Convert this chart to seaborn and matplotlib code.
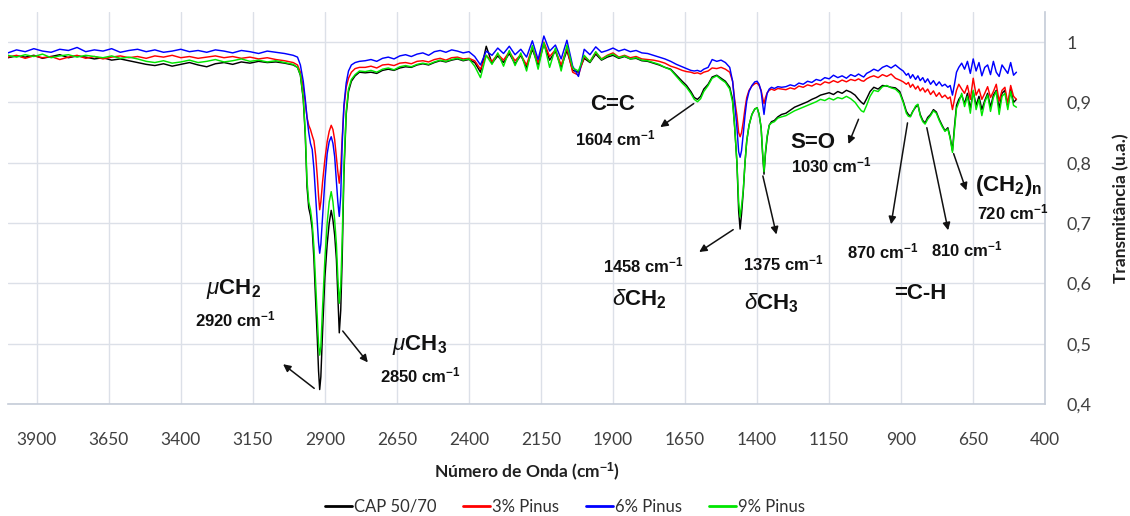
import matplotlib
matplotlib.use("Agg")
import matplotlib.pyplot as plt
from matplotlib import font_manager
from matplotlib.lines import Line2D
import seaborn as sns
import pandas as pd

# ---------------- data ----------------
wavenumber = [
    4000, 3970, 3940, 3910, 3880, 3850, 3820, 3790, 3760, 3730, 3700, 3670, 3640, 3610, 3580, 3550, 3520,
    3490, 3460, 3430, 3400, 3370, 3340, 3310, 3280, 3250, 3220, 3190, 3160, 3130, 3100, 3070, 3040, 3010,
    2995, 2985, 2975, 2968, 2962, 2956, 2950, 2944, 2938, 2932, 2926, 2922, 2918, 2914, 2908, 2900,
    2892, 2885, 2878, 2872, 2866, 2860, 2855, 2850, 2845, 2840, 2834, 2826, 2818, 2808, 2795, 2780,
    2760, 2740, 2720, 2700, 2680, 2660, 2640, 2620, 2600, 2580, 2560, 2540, 2520, 2500, 2480, 2460,
    2440, 2420, 2400, 2380, 2360, 2340, 2320, 2300, 2280, 2260, 2240, 2220, 2200, 2180, 2160, 2140,
    2120, 2100, 2080, 2060, 2040, 2020, 2000, 1980, 1960, 1940, 1920, 1900, 1880, 1860, 1840, 1820,
    1800, 1780,
    1760, 1740, 1720, 1700, 1680, 1660, 1645, 1630, 1618, 1607, 1596, 1585, 1570, 1556, 1540, 1525,
    1510, 1495, 1485, 1478, 1470, 1464, 1459, 1454, 1448, 1442, 1436, 1428, 1418, 1408, 1400, 1393,
    1386, 1381, 1376, 1371, 1365, 1358, 1350, 1340, 1328, 1315,
    1300, 1285, 1270, 1255, 1240, 1225, 1210, 1195, 1180, 1165, 1150, 1135, 1120, 1105, 1090, 1075,
    1060, 1048, 1038, 1030, 1020, 1008, 995, 980, 965, 950, 935, 920, 905, 893, 882, 875, 868, 860,
    850, 842, 834, 825, 817, 808, 798, 788, 778, 768, 758, 748, 738, 730, 722, 715, 708, 700,
    690, 680, 670, 660, 650, 640, 630, 620, 610, 600, 590, 580, 570, 560, 550, 540, 530, 520, 510, 500,
]

cap_50_70 = [
    0.974, 0.977, 0.975, 0.978, 0.973, 0.976, 0.979, 0.974, 0.977, 0.975, 0.972, 0.974, 0.970, 0.972, 0.969, 0.966, 0.963,
    0.961, 0.964, 0.960, 0.963, 0.966, 0.962, 0.959, 0.964, 0.966, 0.963, 0.967, 0.965, 0.968, 0.966, 0.967, 0.965, 0.962,
    0.958, 0.945, 0.905, 0.845, 0.760, 0.725, 0.712, 0.690, 0.640, 0.570, 0.505, 0.455, 0.424, 0.445, 0.520, 0.610,
    0.665, 0.700, 0.721, 0.705, 0.680, 0.640, 0.580, 0.518, 0.555, 0.640, 0.780, 0.880, 0.918, 0.935, 0.944, 0.950,
    0.949, 0.950, 0.948, 0.953, 0.955, 0.953, 0.957, 0.959, 0.958, 0.962, 0.964, 0.962, 0.966, 0.969, 0.967, 0.970,
    0.972, 0.969, 0.971, 0.966, 0.950, 0.993, 0.965, 0.977, 0.966, 0.981, 0.964, 0.978, 0.958, 0.988, 0.962, 0.997,
    0.970, 0.985, 0.958, 0.986, 0.953, 0.950, 0.973, 0.966, 0.980, 0.970, 0.975, 0.978, 0.973, 0.976, 0.972, 0.973,
    0.969, 0.968,
    0.965, 0.962, 0.958, 0.955, 0.945, 0.935, 0.928, 0.918, 0.908, 0.905, 0.910, 0.922, 0.930, 0.942, 0.945, 0.940,
    0.935, 0.925, 0.905, 0.860, 0.800, 0.720, 0.690, 0.715, 0.752, 0.800, 0.836, 0.862, 0.880, 0.889, 0.891, 0.880,
    0.858, 0.815, 0.781, 0.815, 0.842, 0.862, 0.868, 0.870, 0.876, 0.880,
    0.882, 0.887, 0.892, 0.895, 0.898, 0.901, 0.905, 0.908, 0.912, 0.914, 0.916, 0.913, 0.918, 0.915, 0.920, 0.917,
    0.912, 0.905, 0.900, 0.897, 0.906, 0.918, 0.925, 0.922, 0.928, 0.927, 0.925, 0.924, 0.918, 0.902, 0.885, 0.880, 0.877, 0.885,
    0.892, 0.896, 0.880, 0.870, 0.866, 0.875, 0.880, 0.888, 0.884, 0.872, 0.862, 0.853, 0.858, 0.842, 0.820, 0.860, 0.895, 0.905,
    0.912, 0.898, 0.915, 0.890, 0.918, 0.895, 0.910, 0.888, 0.903, 0.915, 0.892, 0.912, 0.920, 0.890, 0.915, 0.920, 0.893, 0.922, 0.900, 0.905,
]

pinus_3 = [
    0.975, 0.978, 0.973, 0.977, 0.974, 0.976, 0.971, 0.975, 0.978, 0.973, 0.976, 0.972, 0.975, 0.977, 0.974, 0.976, 0.973,
    0.977, 0.975, 0.978, 0.974, 0.976, 0.973, 0.975, 0.977, 0.974, 0.976, 0.973, 0.975, 0.972, 0.974, 0.971, 0.969, 0.966,
    0.962, 0.950, 0.925, 0.900, 0.875, 0.862, 0.855, 0.845, 0.836, 0.812, 0.775, 0.745, 0.722, 0.735, 0.768, 0.805,
    0.835, 0.852, 0.862, 0.855, 0.838, 0.810, 0.785, 0.766, 0.790, 0.840, 0.890, 0.925, 0.940, 0.950, 0.956, 0.958,
    0.958, 0.960, 0.957, 0.962, 0.963, 0.961, 0.965, 0.966, 0.964, 0.968, 0.969, 0.967, 0.971, 0.973, 0.970, 0.974,
    0.975, 0.972, 0.973, 0.969, 0.955, 0.978, 0.968, 0.980, 0.970, 0.984, 0.969, 0.979, 0.962, 0.992, 0.966, 1.000,
    0.976, 0.987, 0.962, 0.990, 0.950, 0.945, 0.976, 0.968, 0.983, 0.972, 0.978, 0.982, 0.975, 0.978, 0.974, 0.976,
    0.972, 0.971,
    0.970, 0.968, 0.965, 0.960, 0.957, 0.953, 0.951, 0.950, 0.948, 0.949, 0.947, 0.950, 0.952, 0.957, 0.956, 0.958,
    0.955, 0.950, 0.935, 0.905, 0.878, 0.850, 0.843, 0.850, 0.868, 0.890, 0.908, 0.920, 0.927, 0.931, 0.932, 0.928,
    0.920, 0.908, 0.898, 0.908, 0.916, 0.920, 0.922, 0.920, 0.923, 0.922,
    0.921, 0.924, 0.922, 0.927, 0.925, 0.929, 0.927, 0.931, 0.929, 0.934, 0.932, 0.936, 0.933, 0.937, 0.934, 0.938,
    0.936, 0.939, 0.936, 0.935, 0.939, 0.942, 0.944, 0.941, 0.946, 0.943, 0.947, 0.940, 0.937, 0.934, 0.930, 0.933, 0.925, 0.930,
    0.922, 0.927, 0.919, 0.924, 0.917, 0.922, 0.913, 0.919, 0.910, 0.916, 0.908, 0.912, 0.906, 0.909, 0.888, 0.905, 0.920, 0.930,
    0.922, 0.915, 0.928, 0.905, 0.940, 0.912, 0.922, 0.905, 0.915, 0.926, 0.908, 0.918, 0.930, 0.902, 0.920, 0.925, 0.898, 0.928, 0.910, 0.905,
]

pinus_6 = [
    0.982, 0.987, 0.984, 0.989, 0.985, 0.983, 0.988, 0.986, 0.991, 0.984, 0.987, 0.985, 0.989, 0.983, 0.986, 0.988, 0.984,
    0.987, 0.983, 0.985, 0.988, 0.984, 0.986, 0.983, 0.987, 0.985, 0.982, 0.986, 0.984, 0.981, 0.985, 0.983, 0.981, 0.978,
    0.975, 0.962, 0.935, 0.905, 0.875, 0.850, 0.832, 0.822, 0.790, 0.745, 0.700, 0.668, 0.650, 0.665, 0.710, 0.770,
    0.815, 0.835, 0.843, 0.832, 0.810, 0.770, 0.735, 0.711, 0.745, 0.830, 0.895, 0.932, 0.952, 0.962, 0.966, 0.968,
    0.969, 0.971, 0.968, 0.973, 0.975, 0.972, 0.977, 0.979, 0.976, 0.980, 0.982, 0.978, 0.984, 0.986, 0.983, 0.987,
    0.985, 0.982, 0.984, 0.976, 0.962, 0.985, 0.978, 0.990, 0.981, 0.993, 0.979, 0.988, 0.975, 1.002, 0.971, 1.010,
    0.985, 0.995, 0.972, 1.003, 0.960, 0.943, 0.988, 0.979, 0.992, 0.983, 0.986, 0.990, 0.985, 0.988, 0.984, 0.986,
    0.982, 0.981,
    0.978, 0.975, 0.972, 0.968, 0.963, 0.959, 0.956, 0.953, 0.952, 0.953, 0.951, 0.955, 0.958, 0.971, 0.968, 0.970,
    0.966, 0.958, 0.935, 0.900, 0.858, 0.818, 0.809, 0.820, 0.848, 0.878, 0.902, 0.918, 0.928, 0.934, 0.935, 0.930,
    0.918, 0.898, 0.880, 0.900, 0.915, 0.922, 0.925, 0.923, 0.926, 0.925,
    0.926, 0.929, 0.927, 0.932, 0.930, 0.935, 0.933, 0.938, 0.936, 0.941, 0.939, 0.945, 0.941, 0.944, 0.940, 0.946,
    0.943, 0.947, 0.944, 0.942, 0.948, 0.951, 0.955, 0.952, 0.958, 0.961, 0.957, 0.962, 0.956, 0.952, 0.945, 0.948, 0.940, 0.946,
    0.938, 0.944, 0.936, 0.941, 0.933, 0.939, 0.930, 0.936, 0.928, 0.934, 0.927, 0.930, 0.925, 0.928, 0.912, 0.930, 0.950, 0.958,
    0.965, 0.955, 0.968, 0.948, 0.972, 0.952, 0.966, 0.944, 0.958, 0.962, 0.946, 0.968, 0.950, 0.943, 0.962, 0.955, 0.948, 0.966, 0.945, 0.950,
]

pinus_9 = [
    0.978, 0.975, 0.979, 0.976, 0.980, 0.974, 0.977, 0.979, 0.975, 0.978, 0.976, 0.974, 0.977, 0.973, 0.975, 0.972, 0.968,
    0.966, 0.969, 0.965, 0.967, 0.970, 0.966, 0.968, 0.971, 0.967, 0.969, 0.972, 0.968, 0.970, 0.967, 0.969, 0.966, 0.963,
    0.958, 0.946, 0.908, 0.850, 0.770, 0.735, 0.722, 0.700, 0.660, 0.600, 0.540, 0.500, 0.481, 0.495, 0.560, 0.640,
    0.700, 0.735, 0.752, 0.735, 0.705, 0.665, 0.610, 0.567, 0.595, 0.670, 0.790, 0.885, 0.922, 0.938, 0.946, 0.952,
    0.951, 0.953, 0.950, 0.955, 0.957, 0.954, 0.959, 0.961, 0.959, 0.963, 0.965, 0.963, 0.967, 0.970, 0.968, 0.971,
    0.973, 0.970, 0.972, 0.960, 0.941, 0.978, 0.963, 0.982, 0.960, 0.986, 0.961, 0.982, 0.952, 0.994, 0.955, 0.999,
    0.958, 0.990, 0.952, 0.995, 0.957, 0.952, 0.978, 0.967, 0.984, 0.971, 0.977, 0.980, 0.974, 0.977, 0.972, 0.974,
    0.970, 0.969,
    0.966, 0.963, 0.958, 0.954, 0.943, 0.932, 0.925, 0.915, 0.905, 0.901, 0.906, 0.918, 0.928, 0.940, 0.944, 0.938,
    0.933, 0.922, 0.900, 0.860, 0.800, 0.735, 0.710, 0.728, 0.755, 0.800, 0.836, 0.862, 0.880, 0.889, 0.891, 0.880,
    0.858, 0.818, 0.785, 0.818, 0.845, 0.862, 0.866, 0.868, 0.874, 0.876,
    0.878, 0.882, 0.886, 0.889, 0.892, 0.895, 0.898, 0.901, 0.905, 0.903, 0.907, 0.904, 0.908, 0.906, 0.910, 0.906,
    0.900, 0.892, 0.886, 0.884, 0.895, 0.910, 0.920, 0.918, 0.926, 0.928, 0.924, 0.922, 0.915, 0.900, 0.882, 0.877, 0.876, 0.884,
    0.894, 0.897, 0.878, 0.868, 0.864, 0.872, 0.878, 0.886, 0.882, 0.870, 0.860, 0.852, 0.856, 0.840, 0.817, 0.855, 0.890, 0.900,
    0.915, 0.893, 0.910, 0.882, 0.920, 0.888, 0.905, 0.878, 0.900, 0.912, 0.885, 0.908, 0.918, 0.880, 0.910, 0.915, 0.888, 0.918, 0.895, 0.892,
]

series_names = ["CAP 50/70", "3% Pinus", "6% Pinus", "9% Pinus"]
series_colors = ["#000000", "#FF0000", "#0000FF", "#00E600"]
x_ticks = [3900, 3650, 3400, 3150, 2900, 2650, 2400, 2150, 1900, 1650, 1400, 1150, 900, 650, 400]
y_ticks = [0.4, 0.5, 0.6, 0.7, 0.8, 0.9, 1.0]
y_tick_labels = ["0,4", "0,5", "0,6", "0,7", "0,8", "0,9", "1"]

# ---------------- fonts ----------------
sns.set_theme(style="white")
available = {f.name for f in font_manager.fontManager.ttflist}
narrow = "Liberation Sans Narrow" if "Liberation Sans Narrow" in available else "Lato"
plt.rcParams["font.family"] = [narrow, "DejaVu Sans"]
plt.rcParams["mathtext.fontset"] = "custom"
plt.rcParams["mathtext.rm"] = "Liberation Sans"
plt.rcParams["mathtext.it"] = "Liberation Sans:italic"
plt.rcParams["mathtext.bf"] = "Liberation Sans:bold"
ANN = "Liberation Sans"

rows = []
for name, vals in zip(series_names, [cap_50_70, pinus_3, pinus_6, pinus_9]):
    for w, v in zip(wavenumber, vals):
        rows.append({"wn": w, "T": v, "serie": name})
df = pd.DataFrame(rows)

fig = plt.figure(figsize=(11.3, 5.16), dpi=100)
ax = fig.add_axes([0.007, 0.217, 0.918, 0.76])

sns.lineplot(data=df, x="wn", y="T", hue="serie", hue_order=series_names,
             palette=series_colors, sort=False, estimator=None, linewidth=1.05,
             ax=ax, legend=False)

ax.set_xlim(4000, 400)
ax.set_ylim(0.4, 1.05)
ax.set_xticks(x_ticks)
ax.set_xticklabels([str(t) for t in x_ticks])
ax.set_yticks(y_ticks)
ax.set_yticklabels(y_tick_labels)
ax.yaxis.tick_right()
ax.yaxis.set_label_position("right")
ax.tick_params(axis="x", length=0, pad=20, labelsize=12.5, labelcolor="#404040")
ax.tick_params(axis="y", length=0, pad=15, labelsize=13, labelcolor="#404040")
ax.grid(True, color="#DCE0E8", linewidth=1.0)
ax.set_axisbelow(True)
for s in ["top", "left"]:
    ax.spines[s].set_visible(False)
for s in ["bottom", "right"]:
    ax.spines[s].set_color("#C5CCD8")
    ax.spines[s].set_linewidth(1.2)

ax.set_xlabel(r"Número de Onda (cm$^{\mathbf{-1}}$)", fontsize=12.5, fontweight="bold",
              labelpad=9, color="#202020")
ax.set_ylabel("Transmitância (u.a.)", fontsize=12.5, fontweight="bold", labelpad=16,
              color="#202020", rotation=90)

# legend
handles = [Line2D([0], [0], color=c, lw=2) for c in series_colors]
fig.legend(handles, series_names, loc="center", bbox_to_anchor=(0.5, 0.018), ncol=4,
           frameon=False, fontsize=12, handlelength=1.6, handletextpad=0.15,
           columnspacing=1.6, labelcolor="#303030")

# annotations
big = 16
small = 12
def txt(x, y, s, size):
    ax.text(x, y, s, ha="center", va="center", fontsize=size, fontweight="bold",
            family=ANN, color="#111111")

def arrow(tail, head):
    ax.annotate("", xy=head, xytext=tail,
                arrowprops=dict(arrowstyle="-|>", color="#111111", lw=1.1,
                                mutation_scale=11, shrinkA=0, shrinkB=0))

cm = r" cm$^{\mathbf{-1}}$"
txt(3216, 0.591, r"$\mu\mathbf{CH}_{\mathbf{2}}$", big)
txt(3212, 0.540, "2920" + cm, small)
arrow((2937, 0.426), (3045, 0.466))
txt(2570, 0.498, r"$\mu\mathbf{CH}_{\mathbf{3}}$", big)
txt(2570, 0.448, "2850" + cm, small)
arrow((2838, 0.521), (2751, 0.469))
txt(1900, 0.897, "C=C", big)
txt(1891, 0.840, "1604" + cm, small)
arrow((1620, 0.898), (1736, 0.859))
txt(1794, 0.630, "1458" + cm, small)
txt(1809, 0.573, r"$\delta\mathbf{CH}_{\mathbf{2}}$", big)
arrow((1483, 0.689), (1601, 0.652))
txt(1310, 0.633, "1375" + cm, small)
txt(1352, 0.567, r"$\delta\mathbf{CH}_{\mathbf{3}}$", big)
arrow((1380, 0.778), (1333, 0.681))
txt(1205, 0.833, "S=O", big)
txt(1142, 0.795, "1030" + cm, small)
arrow((1048, 0.872), (1083, 0.831))
txt(965, 0.653, "870" + cm, small)
arrow((878, 0.866), (935, 0.698))
txt(672, 0.657, "810" + cm, small)
arrow((811, 0.858), (737, 0.688))
txt(834, 0.583, "=C-H", big)
txt(526, 0.763, r"$\mathbf{(CH}_{\mathbf{2}}\mathbf{)}_{\mathbf{n}}$", big)
txt(514, 0.718, "720" + cm, small)
arrow((718, 0.815), (674, 0.754))

fig.savefig("out.png", dpi=100)
